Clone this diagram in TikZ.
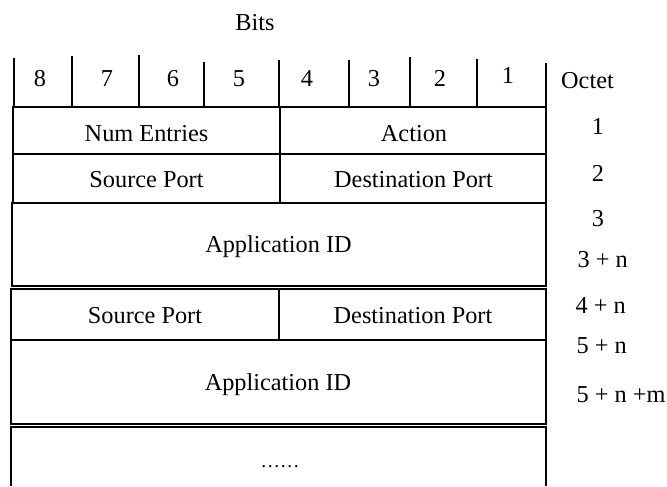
\documentclass[tikz,border=0pt]{standalone}
\usepackage{fontspec}
\setmainfont{Liberation Serif}

\begin{document}
\begin{tikzpicture}[x=0.5pt, y=-0.5pt, line width=0.7pt,
    lbl/.style={font=\fontsize{12.15}{14}\selectfont, inner sep=0pt, anchor=base},
    lblw/.style={lbl, anchor=base west}]
    \useasboundingbox (0,0) rectangle (667,486);

    \draw (255,31) node[lbl](bits){Bits};
    % bit columns
    \foreach \x/\t in {14/58, 72/56, 139/55, 204/62, 279/60, 349/60, 410/57, 477/59, 546/63}
        \draw (\x,\t) -- (\x,107);
    \foreach \x/\b/\y in {40/8/87, 107/7/87, 173/6/87, 239/5/87, 307/4/87, 374/3/87, 440/2/87, 508/1/84}
        \draw (\x,\y) node[lbl](bit\b){\b};

    % octet numbers
    \draw (587.5,89) node[lbl](oct){Octet};
    \draw (598,134) node[lbl](o1){1};
    \draw (598,181) node[lbl](o2){2};
    \draw (598,226) node[lbl](o3){3};
    \draw (577,267) node[lblw](o3n){3 + n};
    \draw (575,313) node[lblw](o4n){4 + n};
    \draw (576,353) node[lblw](o5n){5 + n};
    \draw (576,402) node[lblw](o5nm){5 + n +m};

    % first entry
    \draw (13,107) rectangle (546,154);
    \draw (13,154) rectangle (546,203);
    \draw (280,107) -- (280,203);
    \draw (12,203) rectangle (546,286);
    \draw (146.5,141) node[lbl](num){Num Entries};
    \draw (414,141) node[lbl](act){Action};
    \draw (146.5,187) node[lbl](src1){Source Port};
    \draw (413.5,187) node[lbl](dst1){Destination Port};
    \draw (278.5,252) node[lbl](app1){Application ID};

    % second entry
    \draw (11,289) rectangle (546,340);
    \draw (279,289) -- (279,340);
    \draw (11,340) rectangle (546,424);
    \draw (11,486) -- (11,427) -- (546,427) -- (546,486);
    \draw (145,323) node[lbl](src2){Source Port};
    \draw (413,323) node[lbl](dst2){Destination Port};
    \draw (278,390) node[lbl](app2){Application ID};
    \draw (280,467) node[lbl, font=\fontsize{9.7}{12}\selectfont](more){……};
\end{tikzpicture}
\end{document}
